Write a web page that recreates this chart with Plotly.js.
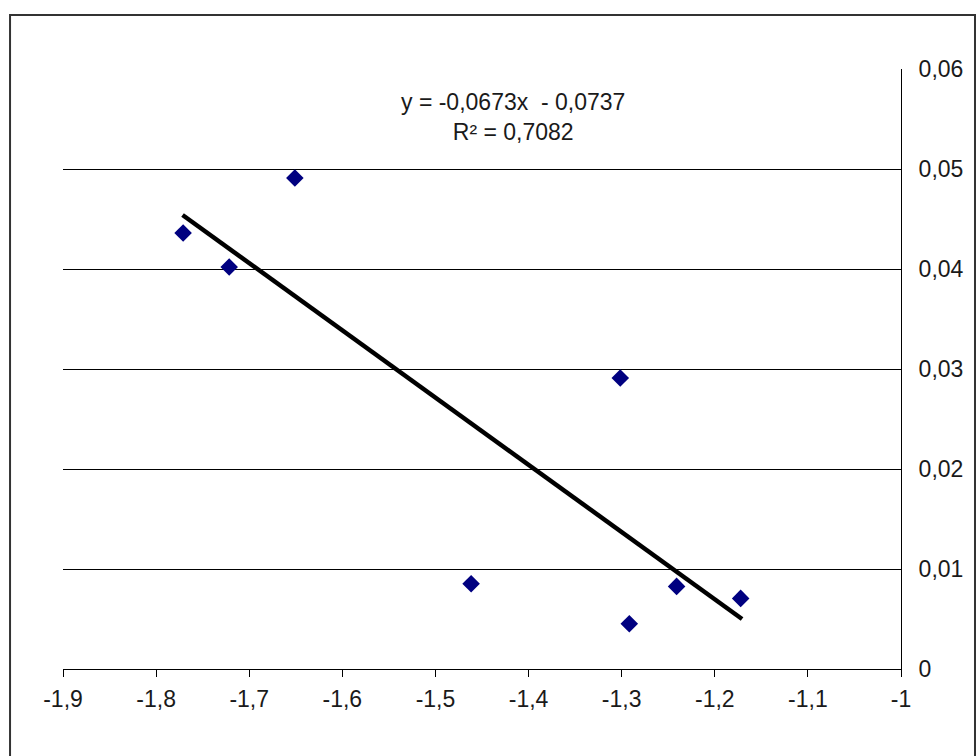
<!DOCTYPE html>
<html>
<head>
<meta charset="utf-8">
<script src="https://cdn.plot.ly/plotly-3.0.1.min.js"></script>
<style>
html,body{margin:0;padding:0;background:#fff;}
#chart{width:976px;height:756px;}
</style>
</head>
<body>
<div id="chart"></div>
<script>
// Data
const pointsX = [-1.771, -1.7215, -1.651, -1.4617, -1.3015, -1.2918, -1.241, -1.1722];
const pointsY = [0.0436, 0.0402, 0.0491, 0.00853, 0.0291, 0.00453, 0.00826, 0.00706];
const trendX = [-1.7716, -1.1707];
const trendY = [0.0454, 0.0050];
const xTickVals = [-1.9, -1.8, -1.7, -1.6, -1.5, -1.4, -1.3, -1.2, -1.1, -1.0];
const xTickText = ['-1,9', '-1,8', '-1,7', '-1,6', '-1,5', '-1,4', '-1,3', '-1,2', '-1,1', '-1'];
const yTickVals = [0, 0.01, 0.02, 0.03, 0.04, 0.05, 0.06];
const yTickText = ['0', '0,01', '0,02', '0,03', '0,04', '0,05', '0,06'];
const yGridVals = [0.01, 0.02, 0.03, 0.04, 0.05];
const equationText = 'y = -0,0673x\u00a0\u00a0- 0,0737<br>R² = 0,7082';

const FONT = 'Liberation Sans, Arial, sans-serif';

const data = [
  {
    x: pointsX, y: pointsY, type: 'scatter', mode: 'markers',
    marker: {symbol: 'diamond', size: 13.5, color: '#000080'},
    showlegend: false, hoverinfo: 'skip'
  },
  {
    x: trendX, y: trendY, type: 'scatter', mode: 'lines',
    line: {color: '#000000', width: 4.5},
    showlegend: false, hoverinfo: 'skip'
  },
  {x: [], y: [], yaxis: 'y2', type: 'scatter', showlegend: false, hoverinfo: 'skip'}
];

const layout = {
  width: 976, height: 756,
  margin: {l: 63, r: 75, t: 69, b: 87},
  paper_bgcolor: '#ffffff', plot_bgcolor: '#ffffff',
  font: {family: FONT, size: 23, color: '#1a1a1a'},
  xaxis: {
    range: [-1.9, -1.0], tickmode: 'array', tickvals: xTickVals, ticktext: xTickText,
    showgrid: false, zeroline: false, showline: true, linecolor: '#000', linewidth: 1,
    ticks: 'outside', ticklen: 7, tickwidth: 1, tickcolor: '#000',
    ticklabelstandoff: 2,
    tickfont: {family: FONT, size: 23, color: '#1a1a1a'}
  },
  yaxis: {
    range: [0, 0.06], side: 'right', tickmode: 'array', tickvals: yTickVals, ticktext: yTickText,
    showgrid: false, zeroline: false, showline: true, linecolor: '#000', linewidth: 1,
    ticks: 'inside', ticklen: 8, tickwidth: 1, tickcolor: '#000',
    ticklabelstandoff: 12,
    tickfont: {family: FONT, size: 23, color: '#1a1a1a'}
  },
  yaxis2: {
    range: [0, 0.06], overlaying: 'y', side: 'right', tickmode: 'array', tickvals: yGridVals,
    showgrid: true, gridcolor: '#000', gridwidth: 1, showticklabels: false, ticks: '',
    zeroline: false, showline: false
  },
  annotations: [{
    x: -1.417, y: 0.0552, xref: 'x', yref: 'y', text: equationText, showarrow: false,
    xanchor: 'center', yanchor: 'middle', align: 'center',
    font: {family: FONT, size: 23, color: '#1a1a1a'}
  }],
  shapes: [{
    type: 'rect', xref: 'paper', yref: 'paper',
    x0: -0.0632, x1: 1.0883, y0: -0.16, y1: 1.09,
    line: {color: '#333333', width: 2}, fillcolor: 'rgba(0,0,0,0)', layer: 'below'
  }]
};

Plotly.newPlot('chart', data, layout, {displayModeBar: false, staticPlot: true});
</script>
</body>
</html>
